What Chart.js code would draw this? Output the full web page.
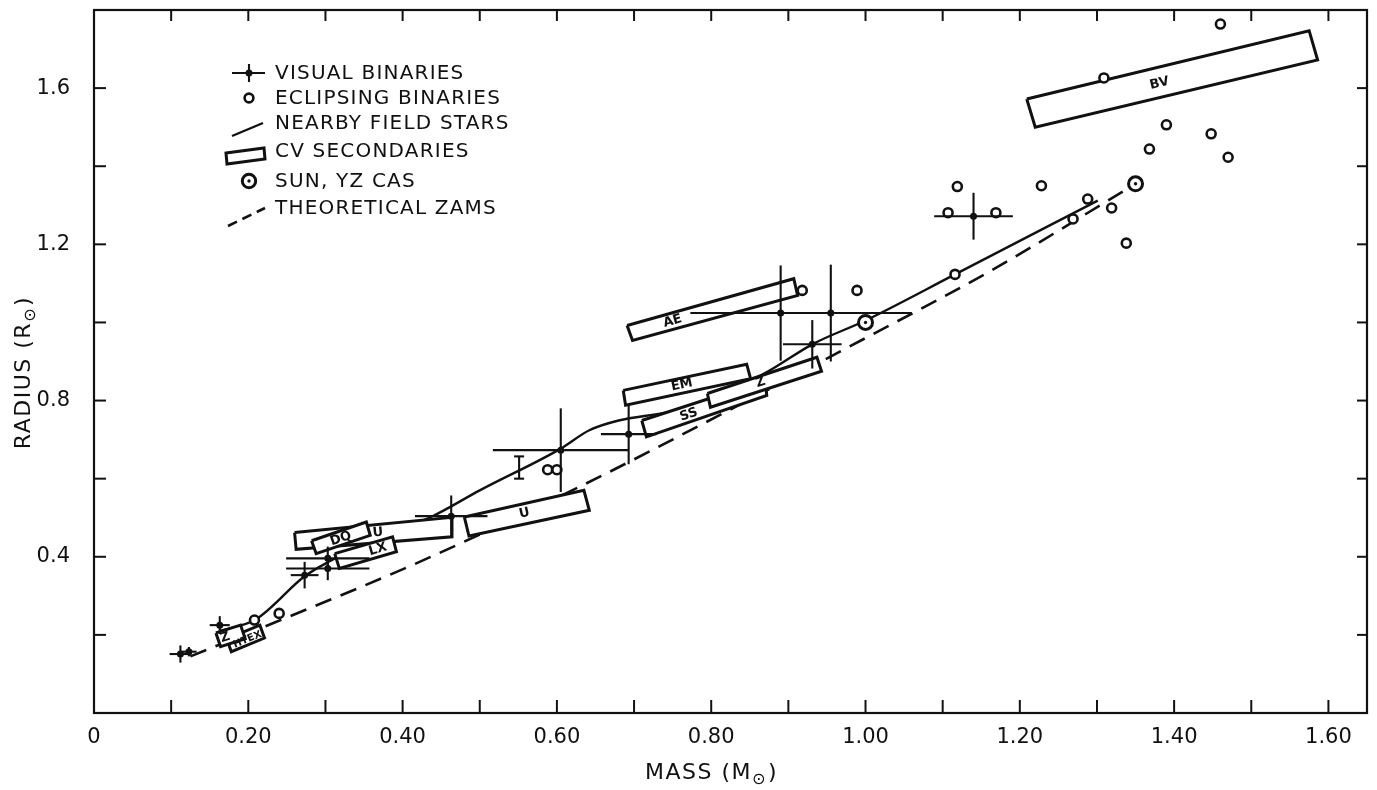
<!DOCTYPE html>
<html>
<head>
<meta charset="utf-8">
<script src="https://cdn.jsdelivr.net/npm/chart.js@4.4.1/dist/chart.umd.min.js"></script>
<style>
  html, body { margin: 0; padding: 0; background: #fff; }
  #wrap { width: 1377px; height: 790px; }
</style>
</head>
<body>
<div id="wrap"><canvas id="massRadius" width="1377" height="790"></canvas></div>
<script>
// ---------------- values ----------------
const xTickLabels = [0, 0.2, 0.4, 0.6, 0.8, 1.0, 1.2, 1.4, 1.6];
const yTickLabels = [0.4, 0.8, 1.2, 1.6];
const xMinorTicks = [0.1, 0.2, 0.3, 0.4, 0.5, 0.6, 0.7, 0.8, 0.9, 1.0, 1.1, 1.2, 1.3, 1.4, 1.5, 1.6];
const yMinorTicks = [0.2, 0.4, 0.6, 0.8, 1.0, 1.2, 1.4, 1.6];

// visual binaries (point + error bars)
const visMass      = [0.112, 0.123, 0.163, 0.273, 0.303, 0.303, 0.463, 0.605, 0.693, 0.890, 0.955, 0.931, 1.140];
const visRadius    = [0.151, 0.157, 0.225, 0.353, 0.396, 0.370, 0.504, 0.673, 0.714, 1.024, 1.024, 0.944, 1.272];
const visMassErr   = [0.014, 0.010, 0.013, 0.018, 0.054, 0.054, 0.047, 0.088, 0.036, 0.117, 0.105, 0.038, 0.051];
const visRadiusErr = [0.022, 0.012, 0.023, 0.034, 0.030, 0.030, 0.053, 0.107, 0.077, 0.122, 0.124, 0.062, 0.060];

// lone radius error bar (no point)
const barMass = [0.551];
const barRadius = [0.6285];
const barErr = [0.0285];

// eclipsing binaries
const eclMass   = [0.208, 0.240, 0.588, 0.600, 0.918, 0.989, 1.107, 1.116, 1.119, 1.169, 1.228, 1.269, 1.288, 1.309, 1.319, 1.338, 1.368, 1.390, 1.448, 1.460, 1.470];
const eclRadius = [0.238, 0.255, 0.623, 0.623, 1.082, 1.082, 1.281, 1.123, 1.348, 1.281, 1.350, 1.265, 1.316, 1.626, 1.293, 1.203, 1.444, 1.506, 1.483, 1.764, 1.423];

// Sun, YZ Cas
const sunMass   = [1.000, 1.350];
const sunRadius = [1.000, 1.355];

// nearby field stars (solid curve)
const fieldMass   = [0.163, 0.210, 0.273, 0.303, 0.360, 0.440, 0.500, 0.605, 0.642, 0.680, 0.745, 0.810, 0.875, 0.931, 1.000, 1.116, 1.301];
const fieldRadius = [0.210, 0.240, 0.350, 0.386, 0.440, 0.505, 0.570, 0.677, 0.724, 0.749, 0.771, 0.810, 0.876, 0.944, 1.005, 1.123, 1.312];

// theoretical ZAMS (dashed)
const zamsMass   = [0.125, 0.258, 0.422, 0.629, 0.814, 0.978, 1.163, 1.350];
const zamsRadius = [0.145, 0.251, 0.387, 0.579, 0.766, 0.937, 1.133, 1.355];

// CV secondaries: corners TL, TR, BR, BL (mass, radius), bottom layer first
const cvNames = ["U", "DQ", "LX", "HTEX", "Z", "U", "EM", "SS", "Z", "AE", "BV"];
const cvCorners = [
  [[0.260, 0.462], [0.464, 0.501], [0.464, 0.451], [0.262, 0.419]],
  [[0.282, 0.441], [0.353, 0.489], [0.358, 0.455], [0.288, 0.408]],
  [[0.312, 0.408], [0.387, 0.451], [0.392, 0.413], [0.318, 0.370]],
  [[0.172, 0.190], [0.215, 0.225], [0.221, 0.192], [0.178, 0.157]],
  [[0.158, 0.205], [0.190, 0.225], [0.196, 0.190], [0.164, 0.170]],
  [[0.480, 0.502], [0.635, 0.570], [0.642, 0.519], [0.486, 0.453]],
  [[0.686, 0.826], [0.846, 0.893], [0.851, 0.856], [0.689, 0.788]],
  [[0.710, 0.749], [0.870, 0.852], [0.872, 0.813], [0.716, 0.707]],
  [[0.795, 0.818], [0.937, 0.911], [0.943, 0.875], [0.799, 0.783]],
  [[0.691, 0.992], [0.907, 1.112], [0.912, 1.069], [0.698, 0.954]],
  [[1.209, 1.572], [1.575, 1.747], [1.586, 1.672], [1.220, 1.500]]
];
const cvLabelAt = [
  [0.368, 0.462], [0.320, 0.446], [0.368, 0.419], [0.199, 0.188], [0.170, 0.193],
  [0.558, 0.511], [0.762, 0.840], [0.771, 0.764], [0.864, 0.846], [0.750, 1.003], [1.381, 1.612]
];

const legendLabels = ["VISUAL BINARIES", "ECLIPSING BINARIES", "NEARBY FIELD STARS", "CV SECONDARIES", "SUN, YZ CAS", "THEORETICAL ZAMS"];

// ---------------- drawing ----------------
const ink = "#111";
const paper = "#fff";
const face = "'DejaVu Sans', 'Liberation Sans', sans-serif";

const pairs = (xs, ys) => xs.map((v, i) => ({ x: v, y: ys[i] }));

const datasets = [];
datasets.push({
  label: "ZAMS", data: pairs(zamsMass, zamsRadius),
  borderColor: ink, borderWidth: 2.6, borderDash: [17, 10], pointRadius: 0,
  cubicInterpolationMode: "monotone", fill: false, order: 100
});
datasets.push({
  label: "Field", data: pairs(fieldMass, fieldRadius),
  borderColor: ink, borderWidth: 2.4, pointRadius: 0,
  cubicInterpolationMode: "monotone", fill: false, order: 99
});
cvCorners.forEach((c, i) => {
  const pts = c.concat([c[0]]);
  datasets.push({
    label: "CV " + cvNames[i],
    data: pts.map(p => ({ x: p[0], y: p[1] })),
    borderColor: ink, backgroundColor: paper, borderWidth: 3,
    borderJoinStyle: "miter", pointRadius: 0, tension: 0,
    fill: "shape", order: 80 - i
  });
});
datasets.push({
  label: "Eclipsing", data: pairs(eclMass, eclRadius), showLine: false,
  pointRadius: 4.5, pointBorderWidth: 2.6, pointBackgroundColor: paper,
  pointBorderColor: ink, order: 10
});
datasets.push({
  label: "Sun", data: pairs(sunMass, sunRadius), showLine: false,
  pointRadius: 7, pointBorderWidth: 3, pointBackgroundColor: paper,
  pointBorderColor: ink, order: 6
});
datasets.push({
  label: "Sun dot", data: pairs(sunMass, sunRadius), showLine: false,
  pointRadius: 1.7, pointBorderWidth: 0, pointBackgroundColor: ink, order: 5
});
datasets.push({
  label: "Visual", data: pairs(visMass, visRadius), showLine: false,
  pointRadius: 3.5, pointBorderWidth: 0, pointBackgroundColor: ink, order: 3
});

function seg(ctx, x1, y1, x2, y2) {
  ctx.beginPath();
  ctx.moveTo(x1, y1);
  ctx.lineTo(x2, y2);
  ctx.stroke();
}

// text with a small sun symbol as subscript, centred on (0,0)
function sunLabel(ctx, pre, post, size) {
  const big = size + "px " + face;
  const small = Math.round(size * 0.72) + "px " + face;
  ctx.font = big;
  const w1 = ctx.measureText(pre).width;
  const w3 = ctx.measureText(post).width;
  ctx.font = small;
  const w2 = ctx.measureText("\u2299").width;
  let x = -(w1 + w2 + w3) / 2;
  ctx.textAlign = "left";
  ctx.textBaseline = "middle";
  ctx.font = big;
  ctx.fillText(pre, x, 0);
  ctx.font = small;
  ctx.fillText("\u2299", x + w1, size * 0.32);
  ctx.font = big;
  ctx.fillText(post, x + w1 + w2 + 1, 0);
}

const decorations = {
  id: "decorations",
  afterDatasetsDraw(chart) {
    const ctx = chart.ctx;
    const xs = chart.scales.x, ys = chart.scales.y;
    ctx.save();
    ctx.strokeStyle = ink;
    ctx.fillStyle = ink;
    ctx.lineCap = "butt";

    // error bars of visual binaries
    ctx.lineWidth = 2.1;
    visMass.forEach((m, i) => {
      const r = visRadius[i];
      seg(ctx, xs.getPixelForValue(m - visMassErr[i]), ys.getPixelForValue(r),
               xs.getPixelForValue(m + visMassErr[i]), ys.getPixelForValue(r));
      seg(ctx, xs.getPixelForValue(m), ys.getPixelForValue(r - visRadiusErr[i]),
               xs.getPixelForValue(m), ys.getPixelForValue(r + visRadiusErr[i]));
    });
    barMass.forEach((m, i) => {
      const x = xs.getPixelForValue(m);
      const y1 = ys.getPixelForValue(barRadius[i] - barErr[i]);
      const y2 = ys.getPixelForValue(barRadius[i] + barErr[i]);
      seg(ctx, x, y1, x, y2);
      seg(ctx, x - 5, y1, x + 5, y1);
      seg(ctx, x - 5, y2, x + 5, y2);
    });

    // CV labels, tilted like their boxes
    ctx.font = "bold 13px " + face;
    ctx.textAlign = "center";
    ctx.textBaseline = "middle";
    cvNames.forEach((name, i) => {
      const c = cvCorners[i];
      const ang = Math.atan2(ys.getPixelForValue(c[1][1]) - ys.getPixelForValue(c[0][1]),
                             xs.getPixelForValue(c[1][0]) - xs.getPixelForValue(c[0][0]));
      ctx.save();
      ctx.translate(xs.getPixelForValue(cvLabelAt[i][0]), ys.getPixelForValue(cvLabelAt[i][1]));
      ctx.rotate(ang);
      ctx.font = (name.length > 2 ? "bold 10px " : "bold 13px ") + face;
      ctx.fillText(name, 0, 0);
      ctx.restore();
    });
    ctx.restore();
  },
  afterDraw(chart) {
    const ctx = chart.ctx;
    const { left, right, top, bottom } = chart.chartArea;
    const xs = chart.scales.x, ys = chart.scales.y;
    ctx.save();
    ctx.strokeStyle = ink;
    ctx.fillStyle = ink;

    // frame and inward ticks
    ctx.lineWidth = 2.2;
    ctx.strokeRect(left, top, right - left, bottom - top);
    ctx.lineWidth = 2;
    xMinorTicks.forEach(v => {
      const x = xs.getPixelForValue(v);
      seg(ctx, x, bottom, x, bottom - 13);
      seg(ctx, x, top, x, top + 11);
    });
    yMinorTicks.forEach(v => {
      const y = ys.getPixelForValue(v);
      seg(ctx, left, y, left + 12, y);
      seg(ctx, right, y, right - 10, y);
    });

    // legend
    const sx = left + 155, tx = left + 181;
    const rows = [top + 63, top + 88, top + 113, top + 141, top + 171, top + 198];
    ctx.font = "20px " + face;
    ctx.letterSpacing = "1.2px";
    ctx.textAlign = "left";
    ctx.textBaseline = "middle";
    legendLabels.forEach((t, i) => ctx.fillText(t, tx, rows[i] + 1));
    ctx.letterSpacing = "0px";

    ctx.lineWidth = 2.1;
    seg(ctx, sx - 17, rows[0], sx + 16, rows[0]);
    seg(ctx, sx, rows[0] - 9, sx, rows[0] + 9);
    ctx.beginPath(); ctx.arc(sx, rows[0], 3.5, 0, Math.PI * 2); ctx.fill();

    ctx.lineWidth = 2.6;
    ctx.beginPath(); ctx.arc(sx, rows[1], 4.4, 0, Math.PI * 2); ctx.stroke();

    ctx.lineWidth = 2.4;
    seg(ctx, sx - 17, rows[2] + 13, sx + 14, rows[2]);

    ctx.lineWidth = 3;
    ctx.beginPath();
    ctx.moveTo(sx - 23, rows[3] + 2);
    ctx.lineTo(sx + 15, rows[3] - 3);
    ctx.lineTo(sx + 16, rows[3] + 8);
    ctx.lineTo(sx - 22, rows[3] + 13);
    ctx.closePath();
    ctx.stroke();

    ctx.lineWidth = 3;
    ctx.beginPath(); ctx.arc(sx, rows[4], 6.7, 0, Math.PI * 2); ctx.stroke();
    ctx.beginPath(); ctx.arc(sx, rows[4], 1.7, 0, Math.PI * 2); ctx.fill();

    ctx.lineWidth = 2.6;
    ctx.setLineDash([10, 6]);
    seg(ctx, sx - 21, rows[5] + 18, sx + 16, rows[5]);
    ctx.setLineDash([]);

    // axis titles
    ctx.letterSpacing = "1.5px";
    ctx.save();
    ctx.translate(711, 773);
    sunLabel(ctx, "MASS (M", ")", 22);
    ctx.restore();
    ctx.save();
    ctx.translate(24, 373);
    ctx.rotate(-Math.PI / 2);
    sunLabel(ctx, "RADIUS (R", ")", 22);
    ctx.restore();
    ctx.letterSpacing = "0px";
    ctx.restore();
  }
};

new Chart(document.getElementById("massRadius"), {
  type: "line",
  data: { datasets: datasets },
  options: {
    responsive: false,
    animation: false,
    devicePixelRatio: 1,
    layout: { padding: { top: 9, right: 9, left: 0, bottom: 0 } },
    plugins: { legend: { display: false }, tooltip: { enabled: false } },
    scales: {
      x: {
        type: "linear", min: 0, max: 1.65,
        grid: { display: false, drawTicks: false },
        border: { display: false },
        ticks: {
          color: ink, padding: 12, maxRotation: 0, autoSkip: false,
          font: { family: face, size: 21 },
          callback: v => (v === 0 ? "0" : v.toFixed(2))
        },
        afterBuildTicks: s => { s.ticks = xTickLabels.map(v => ({ value: v })); },
        afterFit: s => { s.height = 77; s.paddingLeft = 0; s.paddingRight = 0; }
      },
      y: {
        type: "linear", min: 0, max: 1.8,
        grid: { display: false, drawTicks: false },
        border: { display: false },
        ticks: {
          color: ink, padding: 24,
          font: { family: face, size: 21 },
          callback: v => v.toFixed(1)
        },
        afterBuildTicks: s => { s.ticks = yTickLabels.map(v => ({ value: v })); },
        afterFit: s => { s.width = 94; s.paddingTop = 0; s.paddingBottom = 0; }
      }
    }
  },
  plugins: [decorations]
});
</script>
</body>
</html>
